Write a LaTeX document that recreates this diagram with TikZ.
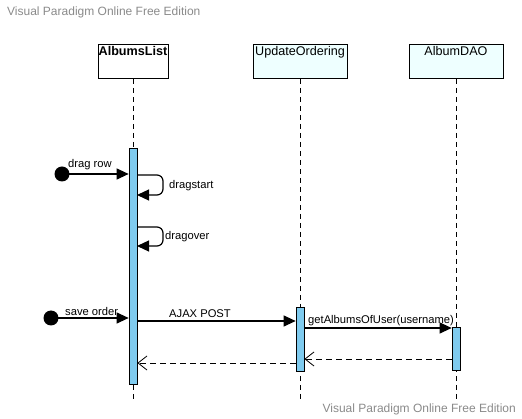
\documentclass[tikz,border=0pt]{standalone}
\usepackage{fontspec}
\setmainfont{Liberation Sans}
\usetikzlibrary{arrows.meta}
\definecolor{actblue}{HTML}{7FCBEF}
\definecolor{boxcyan}{HTML}{EEFFFF}
\definecolor{wmgray}{HTML}{8A8A8A}
\tikzset{
  lifebox/.style={draw=black, line width=1pt, minimum width=#1, minimum height=34pt, inner sep=0pt},
  lifeline/.style={draw=black, line width=0.8pt, dash pattern=on 5pt off 4pt},
  actbar/.style={draw=black, line width=0.7pt, fill=actblue, minimum width=8pt, inner sep=0pt},
  msg/.style={draw=black, line width=1.2pt, -{Triangle[length=12pt,width=11pt]}},
  retmsg/.style={draw=black, line width=0.9pt, dash pattern=on 6pt off 4pt, -{Straight Barb[length=9pt,width=14pt,line width=0.8pt]}},
  startdot/.style={circle, fill=black, minimum size=15pt, inner sep=0pt},
  lbl/.style={font=\fontsize{11.2}{13}\selectfont, inner sep=0pt},
  boxlbl/.style={font=\fontsize{12.6}{14}\selectfont, inner sep=0pt, anchor=north},
  wm/.style={font=\fontsize{12}{14}\selectfont, text=wmgray, inner sep=0pt}
}
\begin{document}
\begin{tikzpicture}[x=1pt, y=-1pt]
\useasboundingbox (0,0) rectangle (522,419);
\node[wm, anchor=west] (wm1) at (7,12) {Visual Paradigm Online Free Edition};
\node[wm, anchor=east] (wm2) at (516,409) {Visual Paradigm Online Free Edition};

% lifeline heads
\node[lifebox=70pt, fill=white, anchor=north] (al) at (133,44) {};
\node[boxlbl, font=\fontsize{12.6}{14}\selectfont\bfseries] (altxt) at (133,46) {AlbumsList};
\node[lifebox=94pt, fill=boxcyan, anchor=north] (uo) at (300,44) {};
\node[boxlbl] (uotxt) at (300,46) {UpdateOrdering};
\node[lifebox=94pt, fill=boxcyan, anchor=north] (dao) at (456,44) {};
\node[boxlbl] (daotxt) at (456,46) {AlbumDAO};

% lifeline end points
\coordinate (alend) at (133,400);
\coordinate (uoend) at (300,400);
\coordinate (daoend) at (456,400);
\draw[lifeline] (al.south) -- (alend);
\draw[lifeline] (uo.south) -- (uoend);
\draw[lifeline] (dao.south) -- (daoend);

% activation bars
\node[actbar, minimum height=236pt, anchor=north] (a1) at (133,148) {};
\node[actbar, minimum height=64pt, anchor=north] (a2) at (300,307) {};
\node[actbar, minimum height=43pt, anchor=north] (a3) at (456,327) {};

% found messages
\node[startdot] (d1) at (62,174) {};
\draw[msg] (d1.center) -- (a1.west |- d1.center);
\node[lbl, anchor=south west] (l1) at (68,170) {drag row};

\node[startdot] (d2) at (51,318) {};
\draw[msg] (d2.center) -- (a1.west |- d2.center);
\node[lbl, anchor=south west] (l2) at (65,316) {save order};

% self messages
\coordinate (s1a) at (137,175);
\coordinate (s1b) at (137,195);
\draw[msg, rounded corners=6pt] (s1a) -- (163,175) -- (163,195) -- (s1b);
\node[lbl, anchor=west] (l3) at (169,186) {dragstart};

\coordinate (s2a) at (137,227);
\coordinate (s2b) at (137,246);
\draw[msg, rounded corners=6pt] (s2a) -- (163,227) -- (163,246) -- (s2b);
\node[lbl, anchor=west] (l4) at (165,237) {dragover};

% calls
\draw[msg] (a1.east |- 0,321) -- (a2.west |- 0,321);
\node[lbl, anchor=south] (l5) at (200,318) {AJAX POST};
\draw[msg] (a2.east |- 0,328) -- (a3.west |- 0,328);
\node[lbl, anchor=south west] (l6) at (308,326) {getAlbumsOfUser(username)};

% returns
\draw[retmsg] (a3.west |- 0,359) -- (a2.east |- 0,359);
\draw[retmsg] (a2.west |- 0,363) -- (a1.east |- 0,363);
\end{tikzpicture}
\end{document}
